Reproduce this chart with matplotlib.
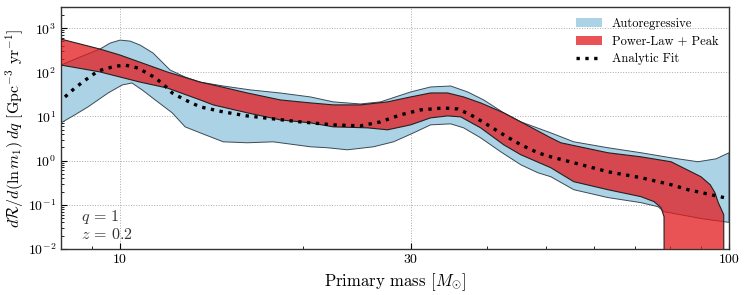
"""Merger rate density vs primary mass: autoregressive vs power-law + peak."""

import matplotlib

matplotlib.use("Agg")
import matplotlib.pyplot as plt
from matplotlib.colors import to_rgba
from matplotlib.lines import Line2D
from matplotlib.patches import Patch
from matplotlib.ticker import LogLocator, NullFormatter

# Autoregressive 90% band (upper / lower edges)
AR_HI_MASS = [8.0, 8.59, 9.27, 9.63, 10.0, 10.39, 10.79, 11.33, 12.08, 12.79, 13.54,
              14.77, 16.36, 18.33, 20.54, 22.40, 24.81, 26.77, 30.0, 32.35, 34.90,
              37.22, 39.54, 42.65, 45.50, 50.96, 55.59, 63.24, 71.67, 80.3, 88.9,
              95.2, 100.0]
AR_HI = [146, 221, 336, 459, 536, 509, 413, 273, 113, 78, 60,
         49, 40, 34, 27.7, 21.4, 19.2, 21.4, 35.9, 46.6, 49.0,
         35.9, 23.7, 12.1, 7.55, 4.26, 2.67, 1.96, 1.51, 1.16, 0.944,
         1.10, 1.51]

AR_LO_MASS = [8.0, 8.43, 8.86, 9.56, 10.08, 10.46, 10.87, 11.42, 12.18, 12.79, 13.54,
              14.77, 16.18, 17.85, 20.54, 21.90, 23.62, 26.07, 28.12, 30.34, 32.35,
              34.90, 36.66, 39.09, 42.17, 45.50, 48.52, 50.96, 55.59, 63.24, 71.67,
              76.4, 78.2, 89.9, 100.0]
AR_LO = [7.17, 10.9, 16.5, 34.1, 51.7, 57.3, 40, 23.7, 12.1, 5.82, 4.26,
         2.67, 2.54, 2.67, 2.06, 1.96, 1.76, 2.06, 2.67, 4.26, 6.46,
         6.81, 5.53, 3.29, 1.59, 0.807, 0.533, 0.433, 0.220, 0.146, 0.112,
         0.091, 0.070, 0.049, 0.040]

# Power-Law + Peak 90% band (rate is zero outside [m_min, m_max])
PLP_HI_MASS = [8.0, 9.27, 10.0, 11.95, 13.54, 14.22, 16.18, 18.33, 20.54, 22.40,
               24.81, 27.49, 30.0, 32.35, 34.50, 36.66, 39.09, 42.65, 45.50, 50.96,
               52.93, 63.24, 71.67, 80.3, 89.9, 93.1, 94.8, 96.0, 98.0, 98.1]
PLP_HI = [565, 336, 246, 102, 60, 51.7, 34.1, 23.7, 20.3, 18.3,
          18.3, 21.4, 27.7, 34.1, 34.1, 27.7, 20.3, 12.1, 7.55, 3.29,
          2.54, 1.51, 1.22, 0.944, 0.433, 0.286, 0.188, 0.112, 0.06, 1e-6]

PLP_LO_MASS = [8.0, 9.27, 10.79, 11.95, 13.54, 14.22, 16.18, 18.33, 20.54, 22.40,
               25.48, 27.49, 30.0, 32.35, 34.50, 36.25, 39.09, 42.65, 45.50, 50.96,
               55.59, 63.24, 71.67, 75.3, 77.3, 78.2, 78.3, 98.1]
PLP_LO = [146, 102, 60, 44.2, 23.7, 18.3, 12.1, 8.38, 7.17, 5.82,
          5.53, 4.99, 6.46, 9.30, 10.3, 9.80, 5.53, 2.29, 1.36, 0.692,
          0.334, 0.220, 0.153, 0.118, 0.0865, 0.054, 1e-6, 1e-6]

# Analytic fit
FIT_MASS = [8.12, 8.43, 8.82, 9.20, 9.56, 9.92, 10.19, 10.70, 11.29, 11.72, 12.18,
            12.79, 13.54, 14.77, 16.18, 17.85, 19.78, 22.40, 24.81, 26.77, 28.87,
            31.15, 33.98, 35.84, 37.65, 40.14, 42.65, 45.50, 48.52, 50.96, 55.59,
            63.24, 71.67, 80.3, 85.6, 98.1]
FIT = [27.7, 44.2, 70.6, 107, 125, 139, 146, 125, 82.5, 57.3, 34.1,
       23.7, 16.5, 12.7, 10.3, 8.83, 7.55, 6.46, 6.13, 7.55, 10.9,
       14.1, 15.6, 14.8, 10.9, 6.46, 3.84, 2.29, 1.51, 1.22, 0.897,
       0.561, 0.411, 0.286, 0.220, 0.146]

X_TICKS = [10, 30, 100]
X_TICK_LABELS = ["10", "30", "100"]

BLUE = "#acd2e6"
RED = "#e31a1c"

plt.rcParams["font.family"] = "serif"
plt.rcParams["font.serif"] = ["cmr10", "DejaVu Serif"]
plt.rcParams["mathtext.fontset"] = "cm"
plt.rcParams["axes.unicode_minus"] = False
plt.rcParams["axes.formatter.use_mathtext"] = True


def main() -> None:
    fig = plt.figure(figsize=(7.47, 2.95), dpi=100)
    ax = fig.add_axes([0.0817, 0.156, 0.8943, 0.820])

    ax.fill(AR_HI_MASS + AR_LO_MASS[::-1], AR_HI + AR_LO[::-1],
            facecolor=BLUE, edgecolor="#3a4a55", linewidth=0.7, zorder=2)
    ax.fill(PLP_HI_MASS + PLP_LO_MASS[::-1], PLP_HI + PLP_LO[::-1],
            facecolor=to_rgba(RED, 0.75), edgecolor="#222222", linewidth=0.8, zorder=3)
    ax.plot(FIT_MASS, FIT, color="black", linestyle=":", linewidth=2.4, zorder=4)

    ax.set_xscale("log")
    ax.set_yscale("log")
    ax.set_xlim(8, 100)
    ax.set_ylim(1e-2, 3e3)

    ax.set_xticks(X_TICKS)
    ax.set_xticklabels(X_TICK_LABELS)
    ax.xaxis.set_minor_locator(LogLocator(base=10, subs=range(2, 10)))
    ax.xaxis.set_minor_formatter(NullFormatter())
    ax.yaxis.set_major_locator(LogLocator(base=10, numticks=10))
    ax.yaxis.set_minor_locator(LogLocator(base=10, subs=range(2, 10), numticks=20))
    ax.yaxis.set_minor_formatter(NullFormatter())
    ax.tick_params(which="both", direction="in", labelsize=10)
    ax.tick_params(which="major", length=4)
    ax.tick_params(which="minor", length=2)

    ax.grid(True, which="major", linestyle=":", color="#aaaaaa", linewidth=0.7)
    ax.set_axisbelow(True)
    for spine in ax.spines.values():
        spine.set_linewidth(1.0)
        spine.set_color("#333333")

    ax.set_xlabel(r"Primary mass [$M_{\odot}$]", fontsize=12, labelpad=4)
    ax.set_ylabel(r"$d\mathcal{R}/d(\ln m_1)\,dq$ [Gpc$^{-3}$ yr$^{-1}$]",
                  fontsize=11.5, labelpad=1)

    ax.text(0.03, 0.115, r"$q\,=\,1$", transform=ax.transAxes, fontsize=11.5,
            color="#333333")
    ax.text(0.03, 0.04, r"$z\,=\,0.2$", transform=ax.transAxes, fontsize=11.5,
            color="#333333")

    handles = [
        Patch(facecolor=BLUE, edgecolor="none", label="Autoregressive"),
        Patch(facecolor=to_rgba(RED, 0.75), edgecolor="none", label="Power-Law + Peak"),
        Line2D([], [], color="black", linestyle=":", linewidth=2.4, label="Analytic Fit"),
    ]
    ax.legend(handles=handles, loc="upper right", frameon=False, fontsize=9,
              handlelength=2.1, handletextpad=0.8, labelspacing=0.45,
              borderaxespad=0.45)

    fig.savefig("out.png", dpi=100)
    plt.close(fig)


if __name__ == "__main__":
    main()
